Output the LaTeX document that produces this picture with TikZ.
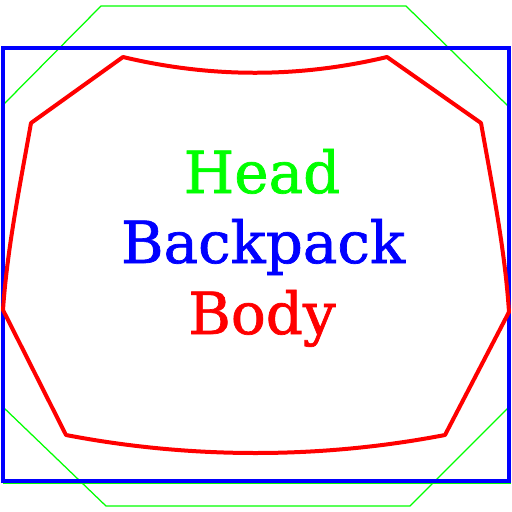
\documentclass[tikz,border=0pt]{standalone}
\usepackage{fontspec}
\setmainfont[FakeBold=1.2]{DejaVu Serif}
\usetikzlibrary{calc}
\definecolor{hbGreen}{HTML}{00FF00}
\definecolor{hbBlue}{HTML}{0000FF}
\definecolor{hbRed}{HTML}{FF0000}
\tikzset{
  hb canvas/.style={fill=white},
  hb head/.style={draw=hbGreen, line width=.25mm},
  hb backpack/.style={draw=hbBlue, line width=.65mm},
  hb body/.style={draw=hbRed, line width=.8mm, line join=round},
  hb label/.style={font=\fontsize{33}{40}\selectfont, anchor=base}
}
\begin{document}
\begin{tikzpicture}[x=.02cm,y=-.02cm]
  \path[hb canvas] (0,0) rectangle (512,512);
  \useasboundingbox (0,0) rectangle (512,512);
  % head outline
  \coordinate (H1) at (101,6);
  \coordinate (H2) at (406,6);
  \coordinate (H3) at (508,106);
  \coordinate (H4) at (508,408);
  \coordinate (H5) at (410,506);
  \coordinate (H6) at (106,506);
  \coordinate (H7) at (3,407);
  \coordinate (H8) at (3,105);
  \coordinate (HL) at (3,483);
  \coordinate (HR) at (511,483);
  % backpack box
  \coordinate (K1) at (3,48);
  \coordinate (K2) at (509,481);
  % body outline
  \coordinate (B1) at (123,57);
  \coordinate (B2) at (387,57);
  \coordinate (B3) at (481,123);
  \coordinate (B4) at (509,312);
  \coordinate (B5) at (445,435);
  \coordinate (B6) at (66,435);
  \coordinate (B7) at (3,310);
  \coordinate (B8) at (31,123);

  \draw[hb head] (H1) -- (H2) -- (H3) -- (H4) -- (H5) -- (H6) -- (H7) -- (H8) -- cycle;
  \draw[hb head] (HL) -- (HR);
  \draw[hb backpack] (K1) rectangle (K2);
  \draw[hb body] (B1) .. controls (211,78) and (299,78) .. (B2) -- (B3)
    .. controls (492,185) and (505,250) .. (B4) -- (B5)
    .. controls (320,459) and (191,459) .. (B6) -- (B7)
    .. controls (7,250) and (20,185) .. (B8) -- cycle;

  \node[hb label, text=hbGreen] (head) at (262,193) {Head};
  \node[hb label, text=hbBlue] (backpack) at (263,263) {Backpack};
  \node[hb label, text=hbRed] (body) at (262,334) {Body};
\end{tikzpicture}
\end{document}
